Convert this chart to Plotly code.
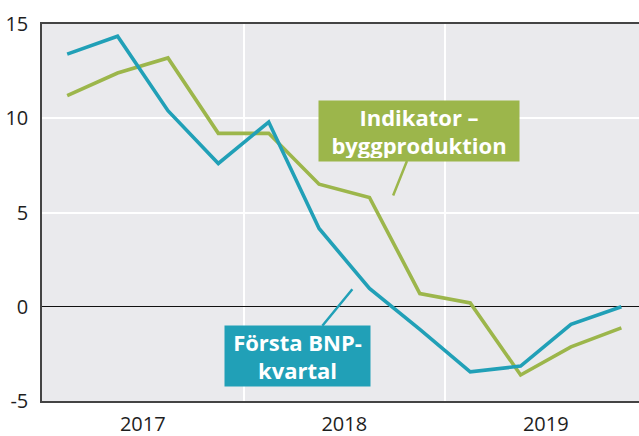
import plotly.graph_objects as go

quarters = ["2017K1", "2017K2", "2017K3", "2017K4",
            "2018K1", "2018K2", "2018K3", "2018K4",
            "2019K1", "2019K2", "2019K3", "2019K4"]
forsta_bnp = [13.4, 14.35, 10.4, 7.6, 9.8, 4.15, 0.97, -1.2, -3.45, -3.15, -0.93, 0.0]
indikator = [11.2, 12.4, 13.2, 9.2, 9.2, 6.5, 5.8, 0.7, 0.2, -3.62, -2.13, -1.12]
year_labels = ["2017", "2018", "2019"]
y_ticks = [-5, 0, 5, 10, 15]

BLUE = "#21A0B7"
GREEN = "#9CB64B"

x = list(range(len(quarters)))
year_pos = [i * 4 + 1.5 for i in range(len(year_labels))]
year_bounds = [i * 4 - 0.5 for i in range(1, len(year_labels))]

fig = go.Figure()
fig.add_trace(go.Scatter(x=x, y=indikator, mode="lines", name="Indikator – byggproduktion",
                         line=dict(color=GREEN, width=3.6), hoverinfo="skip"))
fig.add_trace(go.Scatter(x=x, y=forsta_bnp, mode="lines", name="Första BNP-kvartal",
                         line=dict(color=BLUE, width=3.6), hoverinfo="skip"))

FONT = "Open Sans"
fig.update_layout(
    width=639, height=436,
    margin=dict(l=42, r=0, t=24, b=35, autoexpand=False),
    paper_bgcolor="white",
    plot_bgcolor="#EAEAED",
    showlegend=False,
    font=dict(family=FONT, size=20, color="#1E1E1E"),
    xaxis=dict(
        range=[-0.5, 11.35], automargin=False,
        tickmode="array", tickvals=year_pos, ticktext=year_labels,
        showgrid=False, zeroline=False,
        ticks="", ticklabelstandoff=4,
        showline=True, linecolor="#444444", linewidth=1.5, mirror=True,
        minor=dict(tickmode="array", tickvals=year_bounds, showgrid=True,
                   gridcolor="white", gridwidth=1.5, ticks=""),
        fixedrange=True,
    ),
    yaxis=dict(
        range=[-5, 15], automargin=False,
        tickmode="array", tickvals=y_ticks, ticktext=[str(v) for v in y_ticks],
        showgrid=True, gridcolor="white", gridwidth=1.5,
        zeroline=True, zerolinecolor="#111111", zerolinewidth=1.3,
        ticks="", ticklabelstandoff=8,
        showline=True, linecolor="#444444", linewidth=1.5,
        fixedrange=True,
    ),
)

fig.add_annotation(
    x=6.47, y=5.9, xref="x", yref="y",
    ax=26, ay=-65, axref="pixel", ayref="pixel",
    text="Indikator –<br>byggproduktion",
    showarrow=True, arrowhead=0, arrowwidth=2.5, arrowcolor=GREEN,
    bgcolor=GREEN, borderpad=3, width=194, height=54, align="center",
    font=dict(family=FONT, size=22, color="white", weight="bold"),
)
fig.add_annotation(
    x=5.66, y=0.93, xref="x", yref="y",
    ax=-55, ay=67, axref="pixel", ayref="pixel",
    text="Första BNP-<br>kvartal",
    showarrow=True, arrowhead=0, arrowwidth=2.5, arrowcolor=BLUE,
    bgcolor=BLUE, borderpad=3, width=139, height=54, align="center",
    font=dict(family=FONT, size=22, color="white", weight="bold"),
)

fig.write_html("out.html", config={"displayModeBar": False},
               post_script="document.body.style.margin='0';")
